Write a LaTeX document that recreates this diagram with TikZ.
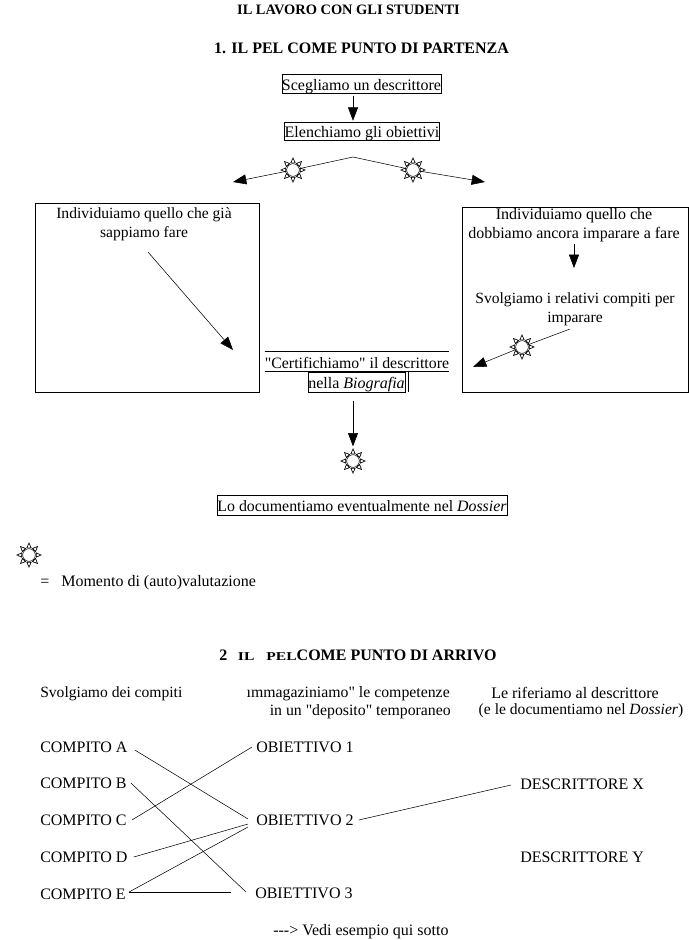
\documentclass[tikz,border=0pt]{standalone}
\usepackage{fontspec}
\setmainfont{Liberation Serif}
\newfontfamily\widecaps[FakeStretch=1.3]{Liberation Serif}
\newfontfamily\straight{Liberation Serif}
\newcommand{\dq}{{\straight\char34\relax}}
\usepackage{tikz}
\usetikzlibrary{arrows.meta}
\pgfdeclarelayer{nodelayer}
\pgfdeclarelayer{edgelayer}
\pgfsetlayers{nodelayer,edgelayer,main}
\tikzset{
    none/.style = {inner sep=0pt, font=\fontsize{12}{14}\selectfont},
    narrow/.style = {inner sep=0pt, font=\fontsize{11.7}{14}\selectfont},
    title/.style = {inner sep=0pt, font=\fontsize{10.8}{12}\selectfont\bfseries},
    head/.style = {inner sep=0pt, font=\fontsize{12}{14}\selectfont\bfseries},
    lined/.style = {none, text height=9.8pt, text depth=0pt, minimum height=14.5pt},
    box/.style = {lined, draw},
    tip/.style = {-{Triangle[length=10pt,width=7.5pt]}},
    sun/.pic = {
      \node [circle, draw, fill=white, inner sep=0pt, minimum size=9.5pt] (-core) at (0, 0) {};
      \foreach \a in {0,45,...,315} {
        \draw [fill=white, line width=0.5pt, line join=miter] (\a-17:7.5) -- (\a:12) -- (\a+17:7.5) -- cycle;
      }
    }
}

\begin{document}
\begin{tikzpicture}[x=0.75pt, y=-0.75pt, line width=0.75pt]
  \useasboundingbox (0, 0) rectangle (689, 940);
  \begin{pgfonlayer}{nodelayer}
    % part one
    \node [style=title] (titlemain) at (348.5, 10) {IL LAVORO CON GLI STUDENTI};
    \node [style=head] (headone) at (361.5, 48) {1. IL PEL COME PUNTO DI PARTENZA};
    \node [style=box, minimum width=119pt] (choose) at (361.5, 84) {Scegliamo un descrittore};
    \node [style=box, minimum width=113.5pt, minimum height=13.5pt] (list) at (362, 131) {Elenchiamo gli obiettivi};
    \coordinate (apex) at (353, 157);
    \coordinate (tipleft) at (233, 182);
    \coordinate (tipright) at (485, 182);
    \pic (sunleft) at (293, 170) {sun};
    \pic (sunright) at (413, 170) {sun};
    \node [style=none, draw, minimum width=168pt, minimum height=141.75pt] (knownbox) at (147, 297.5) {};
    \node [style=narrow, align=center] (known) at (144, 224) {Individuiamo quello che già\\[0.5pt]sappiamo fare};
    \coordinate (knowntail) at (148, 252);
    \coordinate (knowntip) at (233, 350);
    \node [style=none, draw, minimum width=169.5pt, minimum height=138.75pt] (learnbox) at (575, 299.5) {};
    \node [style=none, align=center] (learn) at (574, 225) {Individuiamo quello che\\[0.5pt]dobbiamo ancora imparare a fare};
    \coordinate (learntail) at (574, 244);
    \coordinate (learntip) at (574, 268);
    \node [style=narrow, align=center] (tasks) at (575, 309) {Svolgiamo i relativi compiti per\\[0.5pt]imparare};
    \coordinate (taskstail) at (570, 329);
    \pic (suntasks) at (522, 347) {sun};
    \coordinate (taskstip) at (473, 367);
    \node [style=lined, font=\fontsize{11.85}{14}\selectfont, minimum width=138pt, minimum height=14.25pt] (certify) at (357, 361.5) {\dq Certifichiamo\dq{} il descrittore};
    \node [style=box, minimum width=72.75pt, minimum height=15pt] (biography) at (356.5, 382) {nella \textit{Biografia}};
    \coordinate (biotail) at (353, 401);
    \pic (sunbottom) at (353, 461) {sun};
    \node [style=box, font=\fontsize{11.9}{14}\selectfont, minimum width=217.5pt, minimum height=15pt] (dossier) at (362, 505) {Lo documentiamo eventualmente nel \textit{Dossier}};
    % legend
    \pic (sunlegend) at (29, 555) {sun};
    \node [style=none, anchor=west] (legend) at (40, 583) {=\hspace{9pt}Momento di (auto)valutazione};
    % part two
    \node [style=head, anchor=west] (headtwo) at (219, 655) {2\hspace{8pt}{\fontsize{9}{10}\selectfont\widecaps\bfseries IL\hspace{9pt}PEL}COME PUNTO DI ARRIVO};
    \node [style=narrow, anchor=west] (coltasks) at (40, 694) {Svolgiamo dei compiti};
    \node [style=none, font=\fontsize{11.85}{14}\selectfont, anchor=east] (colstore) at (450, 694) {ımmagaziniamo\dq{} le competenze};
    \node [style=none, font=\fontsize{11.85}{14}\selectfont, anchor=east] (colstoretwo) at (451, 712) {in un \dq deposito\dq{} temporaneo};
    \node [style=none] (colrefer) at (575, 693) {Le riferiamo al descrittore};
    \node [style=narrow] (colrefertwo) at (581, 711) {(e le documentiamo nel \textit{Dossier})};
    \node [style=none, anchor=west] (compa) at (40, 747) {COMPITO A};
    \node [style=none, anchor=west] (compb) at (40, 783) {COMPITO B};
    \node [style=none, anchor=west] (compc) at (40, 820) {COMPITO C};
    \node [style=none, anchor=west] (compd) at (40, 857) {COMPITO D};
    \node [style=none, anchor=west] (compe) at (40, 894) {COMPITO E};
    \node [style=none, anchor=west] (obja) at (256, 747) {OBIETTIVO 1};
    \node [style=none, anchor=west] (objb) at (256, 820) {OBIETTIVO 2};
    \node [style=none, anchor=west] (objc) at (255, 893) {OBIETTIVO 3};
    \node [style=none, anchor=west] (descx) at (520, 784) {DESCRITTORE X};
    \node [style=none, anchor=west] (descy) at (520, 857) {DESCRITTORE Y};
    \node [style=none, anchor=west] (seemore) at (273, 932) {{-}{-}{-}> Vedi esempio qui sotto};
  \end{pgfonlayer}
  \begin{pgfonlayer}{edgelayer}
    \draw [style=tip] ([shift={(-8.5, 2)}]choose.south) to ([shift={(-9, -1)}]list.north);
    \draw (apex) to (sunleft-core);
    \draw [style=tip] (sunleft-core) to (tipleft);
    \draw (apex) to (sunright-core);
    \draw [style=tip] (sunright-core) to (tipright);
    \draw [style=tip] (knowntail) to (knowntip);
    \draw [style=tip] (learntail) to (learntip);
    \draw (taskstail) to (suntasks-core);
    \draw [style=tip] (suntasks-core) to (taskstip);
    \draw (certify.north west) to (certify.north east);
    \draw (certify.south west) to (certify.south east);
    \draw ([shift={(3, -1)}]biography.north east) to ([shift={(3, 0)}]biography.south east);
    \draw [style=tip] (biotail) to ([shift={(0, -8)}]sunbottom-core.north);
    \draw (compa.east) ++(7, 3) to ([shift={(-8, -1)}]objb.west);
    \draw (compb.east) ++(4, 0) to ([shift={(-9, -1)}]objc.west);
    \draw (compc.east) ++(5, 0) to ([shift={(-4, 0)}]obja.west);
    \draw (compd.east) ++(6, 0) to ([shift={(-8, 4)}]objb.west);
    \draw (compe.east) ++(3, -2) to ([shift={(-8, 7)}]objb.west);
    \draw (compe.east) ++(3, -2) to ([shift={(-24, -1)}]objc.west);
    \draw (objb.east) ++(5, 0) to ([shift={(-9, 1)}]descx.west);
  \end{pgfonlayer}
\end{tikzpicture}
\end{document}
